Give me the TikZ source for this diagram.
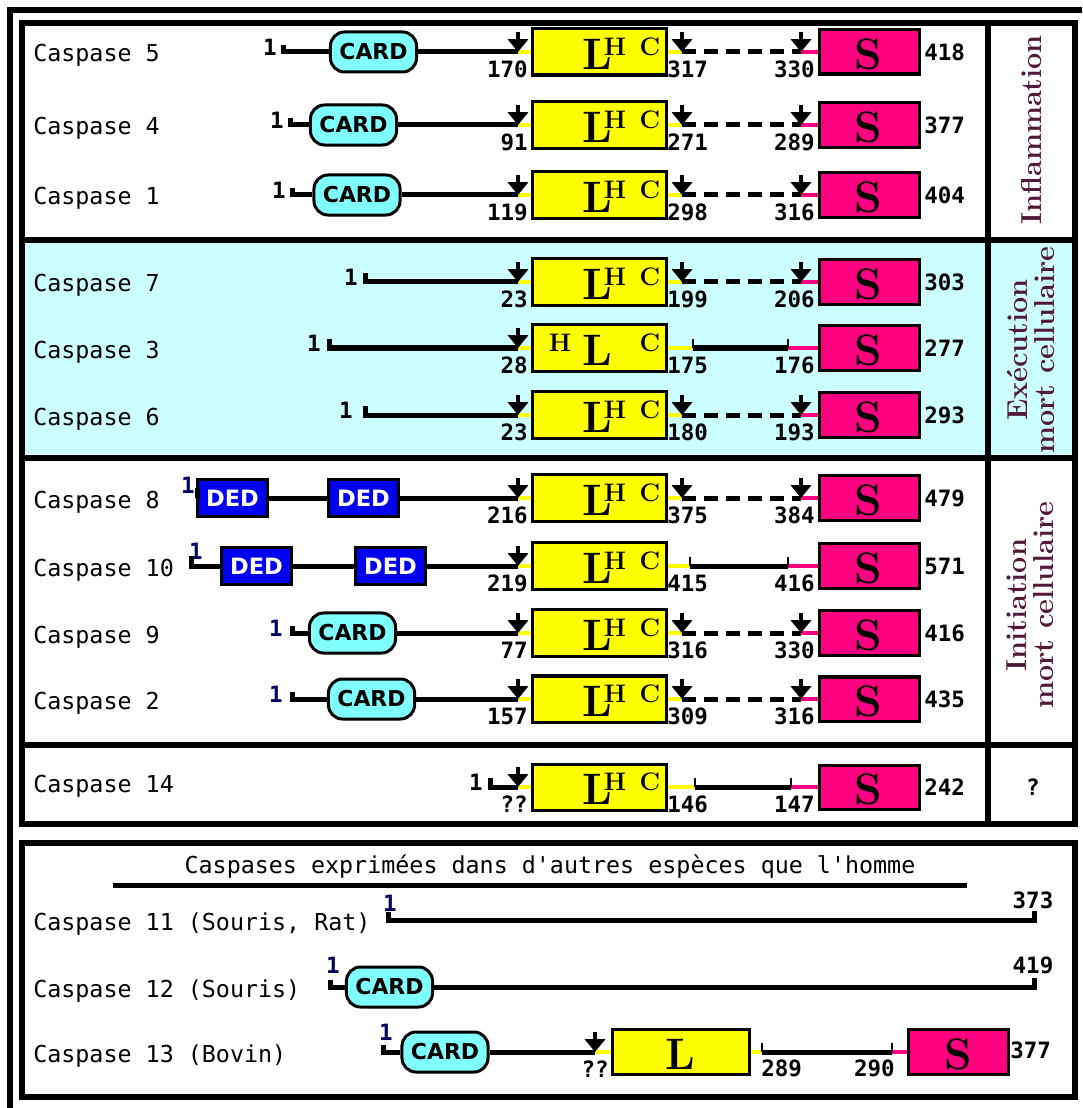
\documentclass[tikz,border=0pt]{standalone}
\usepackage{fontspec}
\usetikzlibrary{arrows.meta}

\newfontfamily\pixfont{DejaVu Sans Mono}
\newfontfamily\domfont{DejaVu Sans}

\definecolor{lhcyellow}{RGB}{255,255,0}
\definecolor{spink}{RGB}{255,0,128}
\definecolor{cardcyan}{RGB}{128,255,255}
\definecolor{dedblue}{RGB}{0,0,240}
\definecolor{execbg}{RGB}{204,255,255}
\definecolor{onenavy}{RGB}{0,0,96}
\definecolor{rolecol}{RGB}{80,25,55}

\def\pxu{0.025cm}

\begin{document}
\begin{tikzpicture}[x=\pxu, y=-\pxu]
    \tikzstyle{casframe}=[line width=0.15cm]
    \tikzstyle{backbone}=[line width=0.125cm]
    \tikzstyle{dashbone}=[backbone, dash pattern=on 0.35cm off 0.2cm]
    \tikzstyle{tick}=[line width=0.06cm]
    \tikzstyle{cleave}=[line width=0.1cm, -{Triangle[width=0.5cm,length=0.32cm]}]
    \tikzstyle{yelseg}=[line width=0.1cm, lhcyellow]
    \tikzstyle{pinkseg}=[line width=0.1cm, spink]
    \tikzstyle{caslabel}=[anchor=base west, inner sep=0pt, font=\pixfont\fontsize{16.6}{18}\selectfont]
    \tikzstyle{num}=[inner sep=0pt, font=\pixfont\bfseries\fontsize{16}{17}\selectfont]
    \tikzstyle{domainbox}=[draw, line width=0.075cm, inner sep=0pt]
    \tikzstyle{card}=[domainbox, fill=cardcyan, rounded corners=0.35cm, minimum width=2.15cm, minimum height=1cm, font=\domfont\bfseries\fontsize{15.6}{16}\selectfont]
    \tikzstyle{ded}=[domainbox, fill=dedblue, text=white, minimum width=1.725cm, minimum height=0.9cm, font=\domfont\bfseries\fontsize{16}{17}\selectfont]
    \tikzstyle{lhcbox}=[domainbox, fill=lhcyellow, minimum width=3.325cm, minimum height=1.15cm]
    \tikzstyle{sbox}=[domainbox, fill=spink, minimum width=2.5cm, minimum height=1.1cm]
    \tikzstyle{bigletter}=[inner sep=0pt, font=\bfseries\fontsize{31.3}{32}\selectfont]
    \tikzstyle{smallletter}=[inner sep=0pt, font=\bfseries\fontsize{18}{19}\selectfont]
    \tikzstyle{role}=[rotate=90, align=center, text=rolecol, inner sep=0pt, font=\bfseries\fontsize{20.5}{19}\selectfont]

    \useasboundingbox (0,0) rectangle (1082,1108);

    % Backgrounds and frames
    \fill[execbg] (22,240) rectangle (1075,458);
    \draw[casframe] (10,1108) -- (10,10) -- (1082,10);
    \draw[casframe] (22,23) rectangle (1075,824);
    \draw[casframe] (22,240) -- (1075,240);
    \draw[casframe] (22,458) -- (1075,458);
    \draw[casframe] (22,745) -- (1075,745);
    \draw[casframe] (988,23) -- (988,824);
    \draw[casframe] (22,843) rectangle (1075,1097);

    % Names of the caspases
    \foreach \n / \y in {5/52,4/125,1/195,7/282,3/348,6/415,8/498,10/566,9/633,2/699,14/782}
        \node[caslabel] (name-\n) at (33,\y+10) {Caspase \n};

    % Draw the large and small subunits with their cleavage sites
    \foreach \n / \y / \p / \q / \r / \t / \hx in {5/52/170/317/330/418/615, 4/125/91/271/289/377/615,
            1/195/119/298/316/404/615, 7/282/23/199/206/303/615, 3/348/28/175/176/277/560,
            6/415/23/180/193/293/615, 8/498/216/375/384/479/615, 10/566/219/415/416/571/615,
            9/633/77/316/330/416/615, 2/699/157/309/316/435/615, 14/787/??/146/147/242/615} {
        \node[lhcbox] (lhc-\n) at (599.5,\y) {};
        \node[bigletter] (L-\n) at (597,\y+2) {L};
        \node[smallletter] (H-\n) at (\hx,\y-5) {H};
        \node[smallletter] (C-\n) at (650,\y-5) {C};
        \node[sbox] (sbox-\n) at (869,\y) {};
        \node[bigletter] (S-\n) at (868,\y+2) {S};
        \coordinate (a-\n) at (518,\y);
        \coordinate (at-\n) at (518,\y-20);
        \draw[yelseg] (a-\n) -- (lhc-\n.west);
        \draw[cleave] (at-\n) -- (a-\n);
        \node[num, anchor=east] (p-\n) at (528,\y+17) {\p};
        \node[num, anchor=west] (q-\n) at (667,\y+17) {\q};
        \node[num, anchor=east] (r-\n) at (815,\y+17) {\r};
        \node[num, anchor=west] (t-\n) at (924,\y) {\t};
    }

    % Linker cut twice
    \foreach \n / \y in {5/52,4/125,1/195,7/282,6/415,8/498,9/633,2/699} {
        \coordinate (b-\n) at (682,\y);
        \coordinate (bt-\n) at (682,\y-20);
        \coordinate (c-\n) at (801,\y);
        \coordinate (ct-\n) at (801,\y-20);
        \draw[yelseg] (lhc-\n.east) -- (b-\n);
        \draw[pinkseg] (c-\n) -- (sbox-\n.west);
        \draw[dashbone] (b-\n) -- (c-\n);
        \draw[cleave] (bt-\n) -- (b-\n);
        \draw[cleave] (ct-\n) -- (c-\n);
    }

    % Linker without cleavage arrows
    \foreach \n / \y / \u / \v in {3/348/693/788, 10/566/690/788, 14/787/695/791} {
        \coordinate (b-\n) at (\u,\y);
        \coordinate (bt-\n) at (\u,\y-9);
        \coordinate (c-\n) at (\v,\y);
        \coordinate (ct-\n) at (\v,\y-9);
        \draw[yelseg] (lhc-\n.east) -- (b-\n);
        \draw[pinkseg] (c-\n) -- (sbox-\n.west);
        \draw[backbone] (b-\n) -- (c-\n);
        \draw[tick] (bt-\n) -- (b-\n) (c-\n) -- (ct-\n);
    }

    % Prodomains with CARD
    \foreach \n / \y / \ox / \sx / \cx / \oc in {5/52/270/283/373.5/black, 4/125/277/290/353.5/black,
            1/195/279/292/357/black, 9/633/276/292/352.5/onenavy, 2/699/276/292/371.5/onenavy} {
        \coordinate (st-\n) at (\sx,\y);
        \coordinate (sk-\n) at (\sx,\y-7);
        \node[num, text=\oc] (one-\n) at (\ox,\y-5) {1};
        \node[card] (card-\n) at (\cx,\y) {CARD};
        \draw[backbone] (sk-\n) -- (st-\n) -- (card-\n);
        \draw[backbone] (card-\n) -- (a-\n);
    }

    % Short prodomains
    \foreach \n / \y / \ox / \sx in {7/282/351/365, 3/348/314/329, 6/415/346/365, 14/787/476/490} {
        \coordinate (st-\n) at (\sx,\y);
        \coordinate (sk-\n) at (\sx,\y-9);
        \node[num] (one-\n) at (\ox,\y-5) {1};
        \draw[backbone] (sk-\n) -- (st-\n) -- (a-\n);
    }

    % Prodomains with two DED
    \foreach \n / \y / \ox / \oy / \sx / \da / \db in {8/498/188/485/197/232.5/363.5, 10/566/196/551/191/256.5/390.5} {
        \coordinate (st-\n) at (\sx,\y);
        \coordinate (sk-\n) at (\sx,\y-10);
        \node[num, text=onenavy] (one-\n) at (\ox,\oy) {1};
        \node[ded] (deda-\n) at (\da,\y) {DED};
        \node[ded] (dedb-\n) at (\db,\y) {DED};
        \draw[backbone] (sk-\n) -- (st-\n) -- (deda-\n);
        \draw[backbone] (deda-\n) -- (dedb-\n);
        \draw[backbone] (dedb-\n) -- (a-\n);
    }

    % Caspases of other species
    \node[caslabel, anchor=base] (title) at (550,873) {Caspases exprimées dans d'autres espèces que l'homme};
    \coordinate (ul-a) at (113,885);
    \coordinate (ul-b) at (967,885);
    \draw[backbone] (ul-a) -- (ul-b);

    \node[caslabel] (name-11) at (33,930) {Caspase 11 (Souris, Rat)};
    \node[caslabel] (name-12) at (33,997) {Caspase 12 (Souris)};
    \node[caslabel] (name-13) at (33,1062) {Caspase 13 (Bovin)};

    % Caspase 11
    \coordinate (st-11) at (388,920);
    \coordinate (sk-11) at (388,912);
    \coordinate (en-11) at (1034,920);
    \coordinate (ek-11) at (1034,911);
    \node[num, text=onenavy] (one-11) at (390,903) {1};
    \node[num] (t-11) at (1033,900) {373};
    \draw[backbone] (sk-11) -- (st-11) -- (en-11) -- (ek-11);

    % Caspase 12
    \coordinate (st-12) at (330,987);
    \coordinate (sk-12) at (330,980);
    \coordinate (en-12) at (1034,987);
    \coordinate (ek-12) at (1034,978);
    \node[num, text=onenavy] (one-12) at (333,965) {1};
    \node[card] (card-12) at (389.5,987) {CARD};
    \node[num] (t-12) at (1033,965) {419};
    \draw[backbone] (sk-12) -- (st-12) -- (card-12);
    \draw[backbone] (card-12) -- (en-12) -- (ek-12);

    % Caspase 13
    \coordinate (st-13) at (383,1052);
    \coordinate (sk-13) at (383,1045);
    \coordinate (a-13) at (595,1052);
    \coordinate (at-13) at (595,1032);
    \coordinate (b-13) at (762,1052);
    \coordinate (bt-13) at (762,1043);
    \coordinate (c-13) at (892,1052);
    \coordinate (ct-13) at (892,1043);
    \node[num, text=onenavy] (one-13) at (386,1032) {1};
    \node[card] (card-13) at (445,1052) {CARD};
    \node[domainbox, fill=lhcyellow, minimum width=3.4cm, minimum height=1.125cm] (lbox-13) at (681,1052) {};
    \node[bigletter] (L-13) at (680,1054) {L};
    \node[sbox, minimum height=1.125cm] (sbox-13) at (958,1052) {};
    \node[bigletter] (S-13) at (958,1054) {S};
    \node[num, anchor=east] (p-13) at (609,1069) {??};
    \node[num, anchor=west] (q-13) at (761,1068) {289};
    \node[num, anchor=east] (r-13) at (895,1068) {290};
    \node[num, anchor=west] (t-13) at (1010,1050) {377};
    \draw[backbone] (sk-13) -- (st-13) -- (card-13);
    \draw[backbone] (card-13) -- (a-13);
    \draw[yelseg] (a-13) -- (lbox-13.west);
    \draw[cleave] (at-13) -- (a-13);
    \draw[yelseg] (lbox-13.east) -- (b-13);
    \draw[pinkseg] (c-13) -- (sbox-13.west);
    \draw[backbone] (b-13) -- (c-13);
    \draw[tick] (bt-13) -- (b-13) (c-13) -- (ct-13);

    % Annotate the functions
    \node[role] (inflam) at (1031,130) {Inflammation};
    \node[role] (exec) at (1031,350) {Exécution\\mort cellulaire};
    \node[role] (init) at (1030,605) {Initiation\\mort cellulaire};
    \node[num] (unknown) at (1033,787) {?};
\end{tikzpicture}
\end{document}
